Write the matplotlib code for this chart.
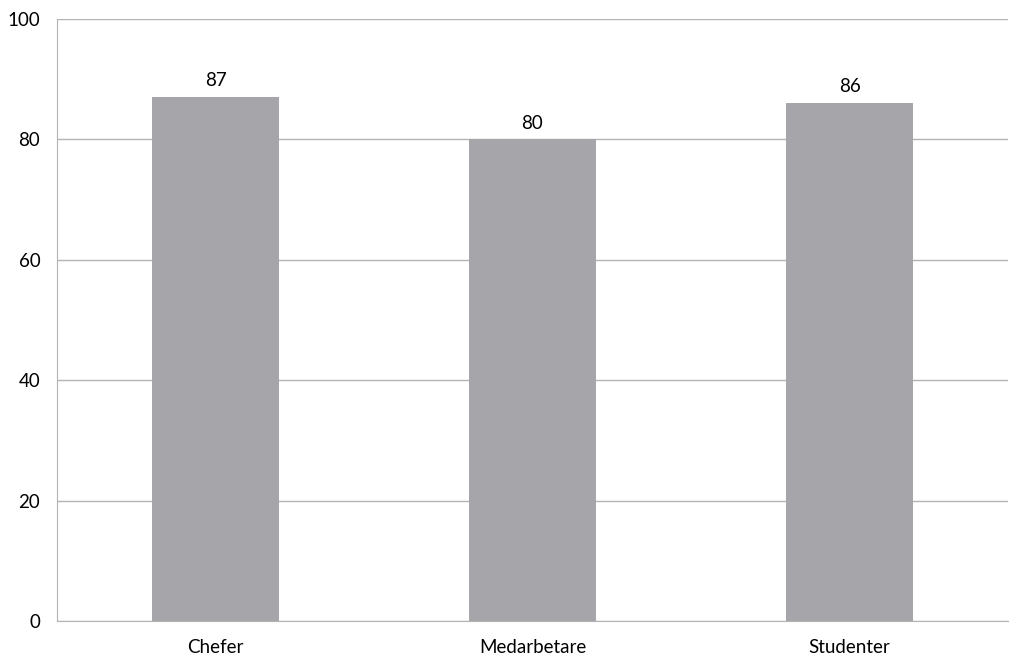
import matplotlib
matplotlib.use('Agg')
import matplotlib.pyplot as plt

categories = ['Chefer', 'Medarbetare', 'Studenter']
values = [87, 80, 86]
yticks = [0, 20, 40, 60, 80, 100]

plt.rcParams['font.family'] = ['Lato', 'DejaVu Sans']

fig = plt.figure(figsize=(10.24, 6.67), dpi=100)
ax = fig.add_axes([57 / 1024, 46 / 667, 951 / 1024, 602 / 667])

x = range(len(categories))
bars = ax.bar(x, values, width=0.4, color='#a6a6aa', zorder=3)
for b, v in zip(bars, values):
    ax.text(b.get_x() + b.get_width() / 2, v + 1.3, str(v), ha='center', va='bottom', fontsize=13.5)

ax.set_xlim(-0.5, len(categories) - 0.5)
ax.set_ylim(0, 100)
ax.set_yticks(yticks)
ax.set_xticks(list(x))
ax.set_xticklabels(categories, fontsize=13.5)
ax.tick_params(axis='y', labelsize=13.5, length=0, pad=12)
ax.tick_params(axis='x', length=0, pad=13)
ax.yaxis.grid(True, color='#b3b3b3', linewidth=1, zorder=0)
for side in ['top', 'right']:
    ax.spines[side].set_visible(False)
for side in ['left', 'bottom']:
    ax.spines[side].set_color('#b3b3b3')

fig.savefig('out.png', dpi=100)
